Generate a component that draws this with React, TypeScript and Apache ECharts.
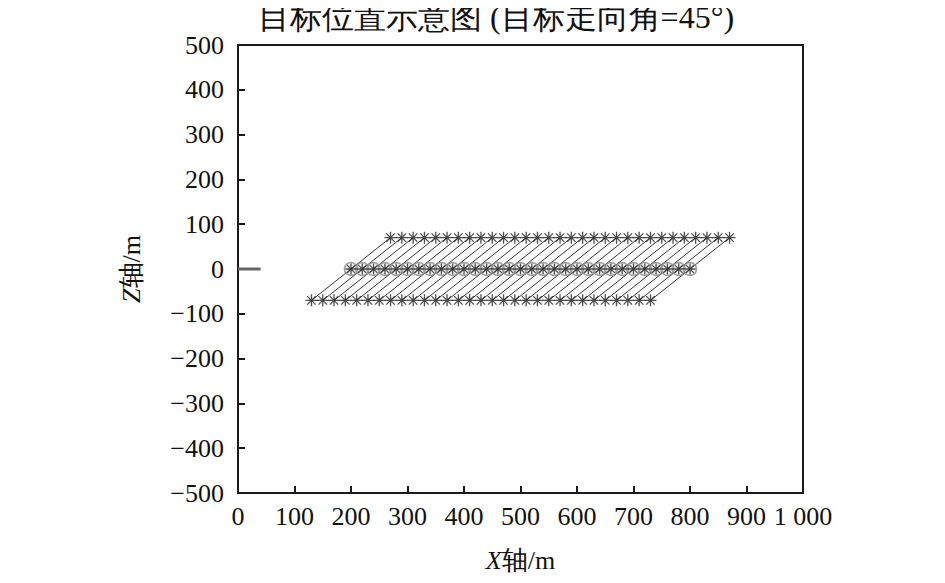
import React, { useEffect, useRef } from "react";
import * as echarts from "echarts";

const titleText = "目标位置示意图 (目标走向角=45°)";
const xTicks = [0, 100, 200, 300, 400, 500, 600, 700, 800, 900, 1000];
const zTicks = [-500, -400, -300, -200, -100, 0, 100, 200, 300, 400, 500];
const topX = [270, 290, 310, 330, 350, 370, 390, 410, 430, 450, 470, 490, 510, 530, 550, 570, 590, 610, 630, 650, 670, 690, 710, 730, 750, 770, 790, 810, 830, 850, 870];
const midX = [200, 220, 240, 260, 280, 300, 320, 340, 360, 380, 400, 420, 440, 460, 480, 500, 520, 540, 560, 580, 600, 620, 640, 660, 680, 700, 720, 740, 760, 780, 800];
const botX = [130, 150, 170, 190, 210, 230, 250, 270, 290, 310, 330, 350, 370, 390, 410, 430, 450, 470, 490, 510, 530, 550, 570, 590, 610, 630, 650, 670, 690, 710, 730];
const topZ = 70;
const midZ = 0;
const botZ = -70;
const segX = [0, 40];
const segZ = [0, 0];

const STAR = "path://M6 0L6 12M0 6L12 6M1.76 1.76L10.24 10.24M1.76 10.24L10.24 1.76";
const SERIF = "Liberation Serif";

export default function App() {
  const ref = useRef<HTMLDivElement>(null);
  useEffect(() => {
    if (!ref.current) return;
    const chart = echarts.init(ref.current, undefined, { renderer: "svg" });
    const starStyle = { color: "transparent", borderColor: "#222", borderWidth: 1.3 };
    chart.setOption({
      animation: false,
      backgroundColor: "#fff",
      grid: { left: 238, right: 142, top: 45, bottom: 90, show: true, borderColor: "#1a1a1a", borderWidth: 2, containLabel: false },
      graphic: [
        {
          type: "text",
          x: 496,
          y: 1,
          style: {
            text: titleText,
            fill: "#111",
            fontSize: 32,
            fontFamily: SERIF,
            textAlign: "center",
            textVerticalAlign: "top",
          },
        },
      ],
      xAxis: {
        type: "value",
        min: xTicks[0],
        max: xTicks[xTicks.length - 1],
        interval: 100,
        name: "{i|X}轴/m",
        nameLocation: "middle",
        nameGap: 54,
        nameTextStyle: {
          fontSize: 26,
          color: "#111",
          fontFamily: SERIF,
          rich: { i: { fontStyle: "italic", fontSize: 26, fontFamily: SERIF, color: "#111" } },
        },
        axisLine: { show: true, onZero: false, lineStyle: { color: "#1a1a1a", width: 2 } },
        axisTick: { show: true, inside: true, length: 7, lineStyle: { color: "#1a1a1a", width: 2 } },
        axisLabel: {
          interval: 0,
          margin: 10,
          fontSize: 26,
          color: "#111",
          fontFamily: SERIF,
          showMaxLabel: true,
          formatter: (v: number) => (v === 1000 ? "1 000" : String(v)),
        },
        splitLine: { show: false },
      },
      yAxis: {
        type: "value",
        min: zTicks[0],
        max: zTicks[zTicks.length - 1],
        interval: 100,
        name: "{i|Z}轴/m",
        nameLocation: "middle",
        nameGap: 94,
        nameRotate: 90,
        nameTextStyle: {
          fontSize: 26,
          color: "#111",
          fontFamily: SERIF,
          rich: { i: { fontStyle: "italic", fontSize: 26, fontFamily: SERIF, color: "#111" } },
        },
        axisLine: { show: true, onZero: false, lineStyle: { color: "#1a1a1a", width: 2 } },
        axisTick: { show: true, inside: true, length: 7, lineStyle: { color: "#1a1a1a", width: 2 } },
        axisLabel: {
          interval: 0,
          margin: 14,
          fontSize: 26,
          color: "#111",
          fontFamily: SERIF,
          formatter: (v: number) => (v < 0 ? "\u2212" + Math.abs(v) : String(v)),
        },
        splitLine: { show: false },
      },
      series: [
        {
          type: "line",
          data: segX.map((x, i) => [x, segZ[i]]),
          symbol: "none",
          lineStyle: { color: "#666", width: 3 },
          z: 3,
        },
        {
          type: "lines",
          coordinateSystem: "cartesian2d",
          data: botX.map((x, i) => ({ coords: [[x, botZ], [topX[i], topZ]] })),
          lineStyle: { color: "#333", width: 1, opacity: 1 },
          z: 2,
        },
        {
          type: "scatter",
          data: midX.map((x) => [x, midZ]),
          symbol: "circle",
          symbolSize: 13,
          itemStyle: { color: "rgba(200,200,200,0.25)", borderColor: "#8a8a8a", borderWidth: 1.5 },
          z: 3,
        },
        {
          type: "scatter",
          data: midX.map((x) => [x, midZ]),
          symbol: STAR,
          symbolSize: 11,
          itemStyle: starStyle,
          z: 4,
        },
        {
          type: "scatter",
          data: topX.map((x) => [x, topZ]),
          symbol: STAR,
          symbolSize: 12,
          itemStyle: starStyle,
          z: 4,
        },
        {
          type: "scatter",
          data: botX.map((x) => [x, botZ]),
          symbol: STAR,
          symbolSize: 12,
          itemStyle: starStyle,
          z: 4,
        },
      ],
    });
    return () => chart.dispose();
  }, []);
  return <div ref={ref} style={{ width: 945, height: 583, margin: -8 }} />;
}
